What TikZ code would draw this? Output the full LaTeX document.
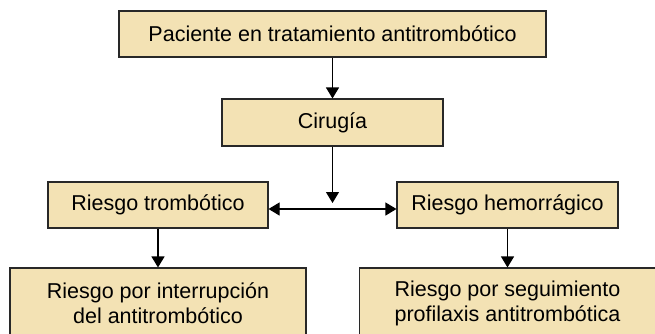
\documentclass[tikz,border=0pt]{standalone}
\usepackage{fontspec}
\setmainfont{Liberation Sans}
\usetikzlibrary{arrows.meta}
\definecolor{boxfill}{RGB}{243,226,180}
\definecolor{boxline}{RGB}{40,40,40}

\begin{document}
\begin{tikzpicture}
  [x=1pt,y=-1pt,
   every node/.style={draw=boxline,line width=1.1pt,fill=boxfill,inner sep=0pt,align=center,
     font=\fontsize{21.5}{25}\selectfont},
   arr/.style={-{Triangle[width=13pt,length=11pt]},line width=1.1pt,draw=black}]
  \useasboundingbox (0,0) rectangle (655,333);
  \node[minimum width=427pt,minimum height=46pt] (pac) at (332.5,34)  {Paciente en tratamiento antitrombótico};
  \node[minimum width=221pt,minimum height=47pt] (cir) at (332.5,122.5) {Cirugía};
  \node[minimum width=220pt,minimum height=46pt] (trom) at (158,205) {Riesgo trombótico};
  \node[minimum width=221pt,minimum height=46pt] (hem) at (507.5,205) {Riesgo hemorrágico};
  \node[minimum width=296pt,minimum height=70pt] (intr) at (158,303) {Riesgo por interrupción\\del antitrombótico};
  \node[minimum width=296pt,minimum height=70pt] (seg) at (507.5,303) {Riesgo por seguimiento\\profilaxis antitrombótica};
  \coordinate (fork) at (332.5,203);

  \draw[arr] (pac) -- (cir);
  \draw[arr] (cir) -- (fork);
  \draw[{Triangle[width=13pt,length=11pt]}-{Triangle[width=13pt,length=11pt]},line width=1.1pt]
    ([yshift=-4pt]trom.east) -- ([yshift=-4pt]hem.west);
  \draw[arr] (trom) -- (intr);
  \draw[arr] (hem) -- (seg);
\end{tikzpicture}
\end{document}
